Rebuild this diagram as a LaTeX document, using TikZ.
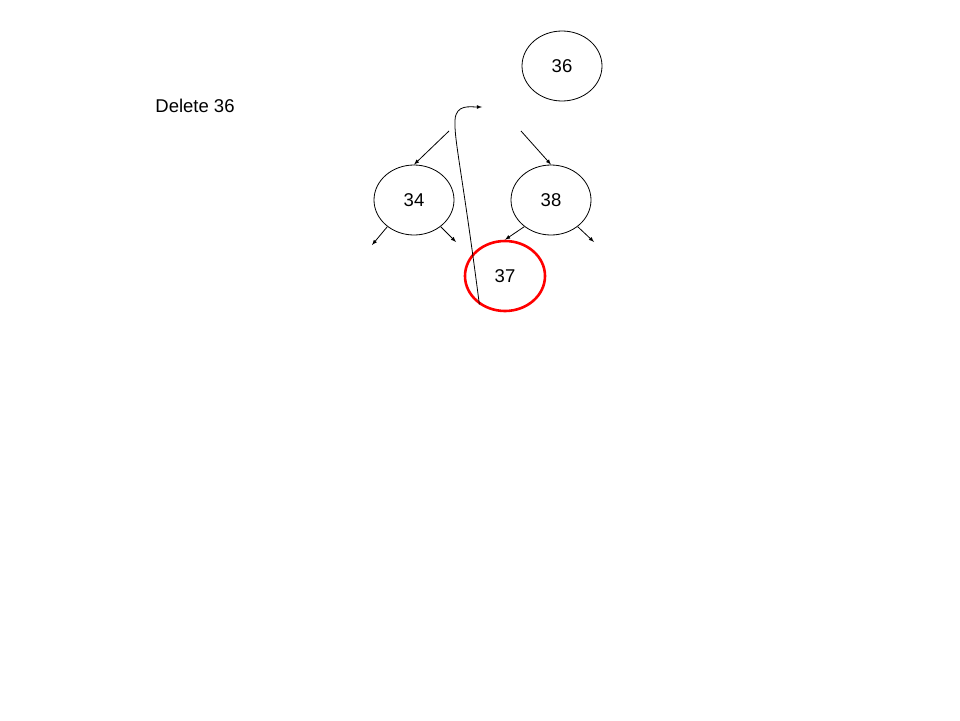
\documentclass[tikz,border=0pt]{standalone}
\usepackage{fontspec}
\setmainfont{Liberation Sans}
\usetikzlibrary{arrows,shapes.geometric}

\begin{document}
\begin{tikzpicture}[x=1pt,y=-1pt,>=latex,line width=0.8pt]
				\tikzstyle{every node}=[font=\fontsize{18.5}{22}\selectfont]
				\tikzstyle{bst}=[ellipse,draw,minimum width=80pt,minimum height=70pt,inner sep=0pt]
				\useasboundingbox (0,0) rectangle (960,720);
				%Label
				\node[anchor=west,inner sep=0pt](lbl) at (155,106){Delete 36};
				%Nodes
				\node[bst](n36) at (562,66){36};
				\node[bst](n34) at (414,200){34};
				\node[bst](n38) at (551,200){38};
				\node[bst, draw=red, line width=2.6pt](n37) at (505,276){37};
				%Free ends
				\coordinate (l36) at (449,131);
				\coordinate (r36) at (521,131);
				\coordinate (l34) at (372,245);
				\coordinate (r34) at (456,242);
				\coordinate (r38) at (594,242);
				\coordinate (tip) at (482,107);
				%Edges
				\draw[->] (l36) -- (n34.north);
				\draw[->] (r36) -- (n38.north);
				\draw[->] (n34.225) -- (l34);
				\draw[->] (n34.-45) -- (r34);
				\draw[->] (n38.225) -- (n37.north);
				\draw[->] (n38.-45) -- (r38);
				%Successor moves up
				\draw[->] (n37.228) .. controls (462,170) and (454,140) .. (455,120) .. controls (456,104) and (470,107) .. (tip);
\end{tikzpicture}
\end{document}
